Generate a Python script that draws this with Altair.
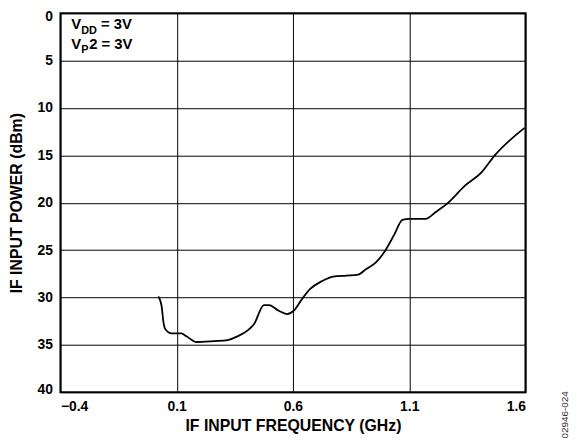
import altair as alt
import pandas as pd

# Curve (GHz, dBm shown as positive magnitude)
freq = [0.021, 0.035, 0.043, 0.05, 0.078, 0.12, 0.142, 0.184, 0.262, 0.319,
        0.362, 0.404, 0.433, 0.475, 0.497, 0.539, 0.574, 0.603, 0.638, 0.674,
        0.723, 0.773, 0.83, 0.88, 0.915, 0.957, 0.993, 1.035, 1.071, 1.1,
        1.17, 1.213, 1.263, 1.34, 1.411, 1.468, 1.596]
power = [29.9, 30.9, 32.6, 33.3, 33.8, 33.8, 34.1, 34.7, 34.6, 34.5,
         34.1, 33.5, 32.8, 30.8, 30.8, 31.4, 31.75, 31.4, 30.2, 29.1,
         28.3, 27.8, 27.7, 27.6, 27.0, 26.3, 25.2, 23.4, 21.8, 21.7,
         21.7, 21.0, 20.1, 18.2, 16.8, 15.0, 12.1]

x_ticks = [-0.4, 0.1, 0.6, 1.1, 1.6]
y_ticks = [0, 5, 10, 15, 20, 25, 30, 35, 40]

FONT = "Liberation Sans"

df = pd.DataFrame({"f": freq, "p": power})

line = alt.Chart(df).mark_line(color="black", strokeWidth=1.8, interpolate="monotone").encode(
    x=alt.X("f:Q",
            scale=alt.Scale(domain=[-0.4, 1.6], nice=False, zero=False),
            axis=alt.Axis(values=x_ticks, format=".1f", title="IF INPUT FREQUENCY (GHz)",
                          grid=True, ticks=False, tickSize=0, domain=False,
                          labelPadding=8, titlePadding=4)),
    y=alt.Y("p:Q",
            scale=alt.Scale(domain=[0, 40], reverse=True, nice=False, zero=False),
            axis=alt.Axis(values=y_ticks, title="IF INPUT POWER (dBm)",
                          grid=True, ticks=False, tickSize=0, domain=False,
                          labelPadding=8, titlePadding=13,
                          labelFlush=True, labelFlushOffset=4)),
)

# annotation pieces: text, pixel x, pixel y (baseline), font size, weight, angle
ann_text = ["V", "DD", "= 3V", "V", "P", "2 = 3V", "02946-024"]
ann_x = [11, 21, 41, 11, 21, 29, 510]
ann_y = [16, 21, 16, 36, 40, 36, 406]
ann_size = [15, 11, 15, 15, 11, 15, 10]
ann_weight = ["bold", "bold", "bold", "bold", "bold", "bold", "normal"]
ann_angle = [0, 0, 0, 0, 0, 0, 270]
ann_align = ["left", "left", "left", "left", "left", "left", "center"]
ann_base = ["alphabetic"] * 6 + ["middle"]

layers = [line]
for t, px, py, fs, fw, ang, al, bl in zip(ann_text, ann_x, ann_y, ann_size,
                                           ann_weight, ann_angle, ann_align, ann_base):
    layers.append(
        alt.Chart(pd.DataFrame({"t": [t]})).mark_text(
            font=FONT, fontSize=fs, fontWeight=fw, angle=ang, align=al,
            baseline=bl, color="black" if fw == "bold" else "#333333"
        ).encode(text="t:N", x=alt.value(px), y=alt.value(py))
    )

chart = alt.layer(*layers).properties(
    width=470, height=383,
    autosize=alt.AutoSizeParams(type="none"),
    padding={"left": 53, "top": 3, "right": 45, "bottom": 45},
).configure_view(
    stroke="black", strokeWidth=2
).configure_axis(
    labelFont=FONT, labelFontSize=14, labelFontWeight="bold", labelColor="black",
    titleFont=FONT, titleFontSize=16, titleFontWeight="bold", titleColor="black",
    gridColor="black", gridOpacity=1, gridWidth=1,
)

chart.save("out.html", embed_options={"renderer": "svg", "actions": False})
